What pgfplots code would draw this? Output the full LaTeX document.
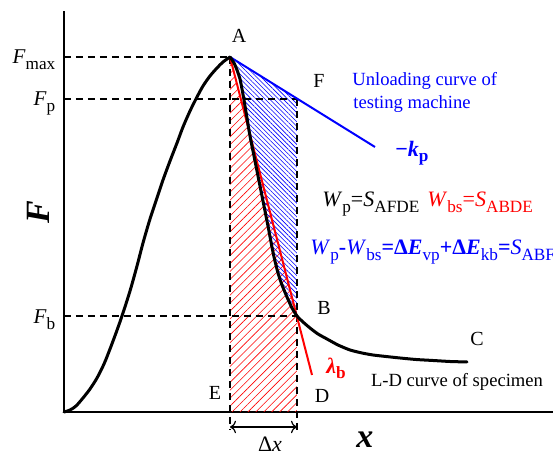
\documentclass[border=0pt]{standalone}
\usepackage{fontspec}
\setmainfont{Liberation Serif}
\usepackage{pgfplots}
\pgfplotsset{compat=1.18}
\usetikzlibrary{patterns.meta,arrows.meta}
\newcommand\subE[1]{\raisebox{-0.5ex}{\fontsize{8.6}{9}\selectfont #1}}
\newcommand\subT[1]{\raisebox{-0.6ex}{\fontsize{8.6}{9}\selectfont #1}}
\begin{document}
\begin{tikzpicture}
\begin{axis}[
  x=0.5pt, y=0.5pt,
  xmin=0, xmax=489, ymin=0, ymax=401,
  enlargelimits=false, clip=false,
  axis lines=left,
  axis line style={-, line width=0.8pt},
  xtick=\empty,
  ytick={95,313,355},
  yticklabels={\textit{F}\subT{b},\textit{F}\subT{p},\textit{F}\subT{max}},
  major tick length=0pt,
  yticklabel style={font=\fontsize{10.5}{12}\selectfont, anchor=base east, yshift=-3.4pt, xshift=-0.8pt},
]
% hatched areas
\addplot[draw=none, pattern={Lines[angle=45,distance=2.8pt,line width=0.3pt]}, pattern color=red]
  coordinates {(166,355) (233,95) (233,0) (166,0)} -- cycle;
\addplot[draw=none, pattern={Lines[angle=-45,distance=1.6pt,line width=0.3pt]}, pattern color=blue]
  coordinates {(166,355) (233,313) (233,96) (228,104) (223,115) (218,127) (214,139) (210,155) (207,170) (204,186) (201,201) (196,226) (191,251) (186,276) (183,294) (180,312) (178,323) (176,333) (173,342) (170,349) (166,355)} -- cycle;
% dashed guide lines
\addplot[black, line width=0.6pt, dash pattern=on 3.5pt off 2.5pt] coordinates {(0,355) (166,355)};
\addplot[black, line width=0.6pt, dash pattern=on 3.5pt off 2.5pt] coordinates {(0,313) (233,313)};
\addplot[black, line width=0.6pt, dash pattern=on 3.5pt off 2.5pt] coordinates {(0,96) (233,96)};
\addplot[black, line width=0.6pt, dash pattern=on 3.5pt off 2.5pt] coordinates {(166,355) (166,-18)};
\addplot[black, line width=0.6pt, dash pattern=on 3.5pt off 2.5pt] coordinates {(233,313) (233,-18)};
\addplot[black, line width=0.6pt, {To[length=3pt]}-{To[length=3pt]}] coordinates {(166,-15) (233,-15)};
% lines
\addplot[red, line width=1pt] coordinates {(166,355) (248,37)};
\addplot[blue, line width=1pt] coordinates {(166,355) (311,265)};
% L-D curve: loading branch
\addplot[black, line width=1.5pt, line join=round, line cap=round, smooth, tension=0.5] coordinates {
(0,0) (6,2) (12,6) (19,14) (26,23) (33,34) (40,48) (46,63) (52,79) (58,96) (66,121) (73,146) (79,169) (86,193) (93,214) (99,232) (106,251) (113,269) (119,285) (126,301) (133,315) (139,326) (146,336) (153,344) (159,350) (166,355)};
% L-D curve: post-peak branch
\addplot[black, line width=1.5pt, line join=round, line cap=round, smooth, tension=0.4] coordinates {
(166,355) (170,349) (173,342) (176,333) (178,323) (180,312) (183,294) (186,276) (191,251) (196,226) (201,201) (204,186) (207,170) (210,155) (214,139) (218,127) (223,115) (228,104) (233,96) (239,90) (246,84) (254,78) (263,73) (274,67) (286,62) (298,59) (309,57) (322,55.5) (336,54) (352,52.5) (369,51.5) (386,50.5) (403,50)};
% labels
\node[font=\fontsize{10}{12}\selectfont] at (axis cs:175,376) {A};
\node[font=\fontsize{10}{12}\selectfont] at (axis cs:255,331) {F};
\node[font=\fontsize{10}{12}\selectfont] at (axis cs:260,104) {B};
\node[font=\fontsize{10}{12}\selectfont] at (axis cs:413,73) {C};
\node[font=\fontsize{10}{12}\selectfont] at (axis cs:151,19) {E};
\node[font=\fontsize{10}{12}\selectfont] at (axis cs:258,16) {D};
\node[font=\fontsize{9.3}{11}\selectfont, text=blue, anchor=west, inner sep=0pt] at (axis cs:288,331) {Unloading curve of};
\node[font=\fontsize{9.3}{11}\selectfont, text=blue, anchor=west, inner sep=0pt] at (axis cs:289,308) {testing machine};
\node[font=\fontsize{11}{13}\selectfont, text=blue, anchor=west, inner sep=0pt] at (axis cs:331,259) {\textbf{−\textit{k}}\subE{\textbf{p}}};
\node[font=\fontsize{11}{13}\selectfont, anchor=base west, inner sep=0pt] at (axis cs:258,205) {\textit{W}\subE{p}=\textit{S}\subE{AFDE}};
\node[font=\fontsize{11}{13}\selectfont, text=red, anchor=base west, inner sep=0pt] at (axis cs:363,205) {\textit{W}\subE{bs}=\textit{S}\subE{ABDE}};
\node[font=\fontsize{11}{13}\selectfont, text=blue, anchor=base west, inner sep=0pt] at (axis cs:246,157) {\textit{W}\subE{p}\textbf{-}\textit{W}\subE{bs}\textbf{=Δ\textit{E}}\subE{vp}\textbf{+Δ\textit{E}}\subE{kb}\textbf{=}\textit{S}\subE{ABF}};
\node[font=\fontsize{11}{13}\selectfont, text=red] at (axis cs:272,44) {\textbf{\textit{λ}}\subE{\textbf{b}}};
\node[font=\fontsize{9.3}{11}\selectfont] at (axis cs:393,30) {L-D curve of specimen};
\node[font=\fontsize{11}{13}\selectfont] at (axis cs:206,-32) {Δ\textit{x}};
\node[font=\fontsize{17}{20}\selectfont] at (axis cs:301,-28) {\textbf{\textit{x}}};
\node[font=\fontsize{17}{20}\selectfont, rotate=90] at (axis cs:-26,200) {\textbf{\textit{F}}};
\coordinate (bbl) at (axis cs:-64,-42);
\coordinate (btr) at (axis cs:489,412);
\end{axis}
\pgfresetboundingbox
\useasboundingbox (bbl) rectangle (btr);
\end{tikzpicture}
\end{document}
